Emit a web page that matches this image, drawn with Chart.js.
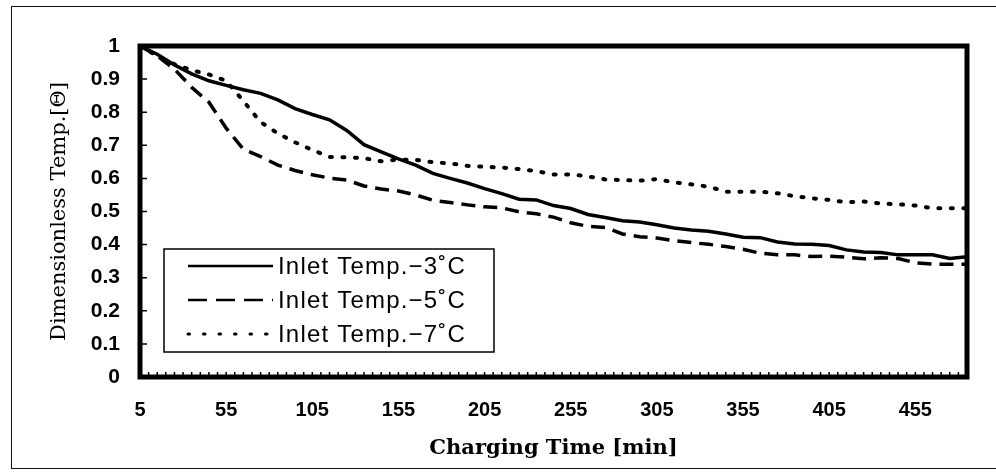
<!DOCTYPE html>
<html lang="en">
<head>
    <meta charset="UTF-8">
    <title>Dimensionless Temp. vs Charging Time</title>
    <script src="https://cdnjs.cloudflare.com/ajax/libs/Chart.js/4.4.1/chart.umd.min.js"></script>
    <style>
        html, body { margin: 0; padding: 0; background: #fff; overflow: hidden; }
        .wrap { position: relative; width: 996px; height: 475px; }
        .frame {
            position: absolute; left: 11px; top: 6px; width: 1000px; height: 461px;
            border: 1.5px solid #111; pointer-events: none;
        }
    </style>
</head>
<body>
<div class="wrap">
    <canvas id="tempChart" width="996" height="475"></canvas>
    <div class="frame"></div>
</div>
<script>
    // charging time [min] and dimensionless temperature for each inlet temperature
    const timeMin = [5, 15, 25, 35, 45, 55, 65, 75, 85, 95, 105, 115, 125, 135, 145, 155, 165, 175, 185, 195,
        205, 215, 225, 235, 245, 255, 265, 275, 285, 295, 305, 315, 325, 335, 345, 355, 365, 375, 385, 395,
        405, 415, 425, 435, 445, 455, 465, 475, 485];
    const inletMinus3 = [1.00, 0.975, 0.943, 0.916, 0.895, 0.881, 0.868, 0.857, 0.837, 0.811, 0.793, 0.777, 0.745, 0.702,
        0.680, 0.659, 0.640, 0.615, 0.600, 0.586, 0.569, 0.554, 0.537, 0.535, 0.518, 0.509, 0.491, 0.482, 0.472,
        0.468, 0.460, 0.450, 0.444, 0.440, 0.432, 0.422, 0.421, 0.408, 0.402, 0.401, 0.397, 0.384, 0.378, 0.376,
        0.369, 0.369, 0.369, 0.358, 0.363];
    const inletMinus5 = [1.00, 0.970, 0.930, 0.875, 0.830, 0.752, 0.688, 0.666, 0.640, 0.624, 0.611, 0.601, 0.595, 0.577,
        0.568, 0.562, 0.550, 0.534, 0.527, 0.520, 0.514, 0.511, 0.499, 0.493, 0.483, 0.466, 0.455, 0.452, 0.432,
        0.424, 0.420, 0.412, 0.406, 0.401, 0.394, 0.386, 0.374, 0.369, 0.369, 0.364, 0.365, 0.362, 0.357, 0.360,
        0.358, 0.345, 0.341, 0.341, 0.341];
    const inletMinus7 = [1.00, 0.970, 0.945, 0.927, 0.914, 0.895, 0.834, 0.770, 0.736, 0.709, 0.686, 0.665, 0.664, 0.661,
        0.652, 0.657, 0.656, 0.649, 0.645, 0.638, 0.635, 0.633, 0.628, 0.622, 0.612, 0.612, 0.606, 0.597, 0.595,
        0.593, 0.598, 0.588, 0.582, 0.575, 0.560, 0.560, 0.560, 0.555, 0.546, 0.540, 0.535, 0.528, 0.530, 0.524,
        0.522, 0.518, 0.510, 0.510, 0.510];
    const seriesLabels = ['Inlet Temp.\u22123\u02DAC', 'Inlet Temp.\u22125\u02DAC', 'Inlet Temp.\u22127\u02DAC'];

    const xTickLabels = [5, 55, 105, 155, 205, 255, 305, 355, 405, 455];
    const yTickLabels = [0, 0.1, 0.2, 0.3, 0.4, 0.5, 0.6, 0.7, 0.8, 0.9, 1];

    // small inside tick marks along the bottom axis, one every 5 minutes
    const xMinorTicks = [];
    for (let t = 5; t <= 485; t += 5) xMinorTicks.push(t);

    const serifFont = "'DejaVu Serif', 'Liberation Serif', serif";
    const sansFont = "'Liberation Sans', Arial, sans-serif";

    function toPoints(values) {
        return values.map((v, i) => ({ x: timeMin[i], y: v }));
    }

    // thick box round the plot area plus the inward ticks
    const plotFrame = {
        id: 'plotFrame',
        afterDatasetsDraw(chart) {
            const { ctx, chartArea: a, scales: { x, y } } = chart;
            ctx.save();
            ctx.strokeStyle = '#000';
            ctx.lineWidth = 1.5;
            ctx.beginPath();
            xMinorTicks.forEach(t => {
                const px = x.getPixelForValue(t);
                ctx.moveTo(px, a.bottom);
                ctx.lineTo(px, a.bottom - 5);
            });
            yTickLabels.forEach(v => {
                const py = y.getPixelForValue(v);
                ctx.moveTo(a.left, py);
                ctx.lineTo(a.left + 7, py);
            });
            ctx.stroke();
            ctx.lineWidth = 5;
            ctx.strokeRect(a.left, a.top, a.right - a.left, a.bottom - a.top);
            ctx.restore();
        }
    };

    // boxed legend sitting inside the plot, lower left
    const insideLegend = {
        id: 'insideLegend',
        afterDraw(chart) {
            const { ctx, chartArea: a } = chart;
            const w = 330, h = 103;
            const left = a.left + 24, top = a.bottom - 25 - h;
            ctx.save();
            ctx.fillStyle = '#fff';
            ctx.fillRect(left, top, w, h);
            ctx.strokeStyle = '#000';
            ctx.lineWidth = 1.5;
            ctx.strokeRect(left, top, w, h);
            chart.data.datasets.forEach((ds, i) => {
                const yy = top + 17 + i * 34;
                ctx.lineWidth = ds.legendWidth;
                ctx.lineCap = ds.legendCap;
                ctx.setLineDash(ds.legendDash);
                ctx.beginPath();
                ctx.moveTo(left + 24, yy);
                ctx.lineTo(left + 109, yy);
                ctx.stroke();
                ctx.setLineDash([]);
                ctx.fillStyle = '#000';
                ctx.font = '24px ' + sansFont;
                ctx.letterSpacing = '1.2px';
                ctx.textBaseline = 'middle';
                ctx.textAlign = 'left';
                ctx.fillText(ds.label, left + 114, yy + 1);
                ctx.letterSpacing = '0px';
            });
            ctx.restore();
        }
    };

    const ctx = document.getElementById('tempChart').getContext('2d');
    new Chart(ctx, {
        type: 'line',
        data: {
            datasets: [{
                label: seriesLabels[0],
                data: toPoints(inletMinus3),
                borderColor: '#000',
                borderWidth: 3.5,
                legendDash: [],
                legendCap: 'butt',
                legendWidth: 2.5
            }, {
                label: seriesLabels[1],
                data: toPoints(inletMinus5),
                borderColor: '#000',
                borderWidth: 3.5,
                borderDash: [14, 8],
                legendDash: [19, 9],
                legendCap: 'butt',
                legendWidth: 2.5
            }, {
                label: seriesLabels[2],
                data: toPoints(inletMinus7),
                borderColor: '#000',
                borderWidth: 4,
                borderDash: [2, 10.5],
                borderCapStyle: 'round',
                legendDash: [1.5, 14],
                legendCap: 'round',
                legendWidth: 3
            }]
        },
        options: {
            responsive: false,
            animation: false,
            events: [],
            layout: { padding: { top: 46, right: 29, bottom: 0, left: 0 } },
            elements: {
                point: { radius: 0 },
                line: { tension: 0, fill: false }
            },
            plugins: {
                legend: { display: false },
                tooltip: { enabled: false }
            },
            scales: {
                x: {
                    type: 'linear',
                    min: 5,
                    max: 485,
                    afterBuildTicks: s => { s.ticks = xTickLabels.map(v => ({ value: v })); },
                    afterFit: s => { s.height = 98; },
                    grid: { display: false, drawTicks: false },
                    border: { display: false },
                    ticks: {
                        color: '#000',
                        padding: 21,
                        maxRotation: 0,
                        autoSkip: false,
                        font: { family: sansFont, size: 20, weight: 'bold' },
                        callback: v => String(v)
                    },
                    title: {
                        display: true,
                        text: 'Charging Time [min]',
                        color: '#000',
                        font: { family: serifFont, size: 21, weight: 'bold' },
                        padding: { top: 0, bottom: 14 }
                    }
                },
                y: {
                    min: 0,
                    max: 1,
                    afterBuildTicks: s => { s.ticks = yTickLabels.map(v => ({ value: v })); },
                    afterFit: s => { s.width = 140; },
                    grid: { display: false, drawTicks: false },
                    border: { display: false },
                    ticks: {
                        color: '#000',
                        padding: 20,
                        font: { family: sansFont, size: 21, weight: 'bold' },
                        callback: v => String(v)
                    },
                    title: {
                        display: true,
                        text: 'Dimensionless Temp.[\u0398]',
                        color: '#000',
                        font: { family: serifFont, size: 21 },
                        padding: { top: 47, bottom: 0 }
                    }
                }
            }
        },
        plugins: [plotFrame, insideLegend]
    });
</script>
</body>
</html>
